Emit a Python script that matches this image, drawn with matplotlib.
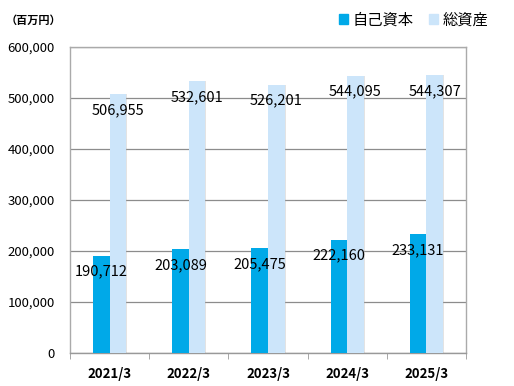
import matplotlib
matplotlib.use('Agg')
import matplotlib.pyplot as plt
import numpy as np
from matplotlib.patches import Patch

plt.rcParams['font.family'] = ['Noto Sans CJK JP', 'DejaVu Sans']

years = ['2021/3', '2022/3', '2023/3', '2024/3', '2025/3']
equity = [190712, 203089, 205475, 222160, 233131]
assets = [506955, 532601, 526201, 544095, 544307]

dark = '#00a9e8'
light = '#cce5fa'

fig = plt.figure(figsize=(5.14, 3.86), dpi=100)
ax = fig.add_axes([70/514, 1 - 353/386, 396/514, 306/386])

x = np.arange(len(years))
w = 0.21
ax.bar(x - w/2, equity, w, color=dark, zorder=3)
ax.bar(x + w/2, assets, w, color=light, zorder=3)
# soft shadow on the right of the bars
for xi, v in zip(x, equity):
    ax.bar(xi - w/2 + 0.012, v, w, color='#b0b0b0', alpha=0.35, zorder=2)
for xi, v in zip(x, assets):
    ax.bar(xi + w/2 + 0.012, v, w, color='#b0b0b0', alpha=0.35, zorder=2)

for xi, v in zip(x, equity):
    ax.annotate(f'{v:,}', (xi - w/2, v), xytext=(0, -11.5), textcoords='offset points',
                ha='center', va='center', fontsize=10.5, zorder=5)
for xi, v in zip(x, assets):
    ax.annotate(f'{v:,}', (xi + w/2, v), xytext=(0, -11.5), textcoords='offset points',
                ha='center', va='center', fontsize=10.5, zorder=5)

ax.set_xlim(-0.5, len(years) - 0.5)
ax.set_ylim(0, 600000)
ax.set_yticks(np.arange(0, 600001, 100000))
ax.set_yticklabels([f'{v:,}' for v in range(0, 600001, 100000)], fontsize=9.5)
ax.set_xticks(x)
ax.set_xticklabels(years, fontsize=9.5, fontweight='bold')
ax.tick_params(axis='x', length=0, pad=10)
ax.tick_params(axis='y', length=0, pad=11)
ax.set_xticks(np.arange(-0.5, len(years)), minor=True)
ax.tick_params(axis='x', which='minor', length=4, color='#999999')
ax.grid(axis='y', color='#8c8c8c', linewidth=0.9, zorder=1)
for s in ax.spines.values():
    s.set_color('#aaaaaa')
    s.set_linewidth(1.0)
ax.spines['bottom'].set_color('#999999')

fig.text(6/514, 1 - 20/386, '（百万円）', fontsize=8, fontweight='bold', ha='left', va='center')

ax.legend([Patch(color=dark), Patch(color=light)], ['自己資本', '総資産'],
          loc='center right', bbox_to_anchor=(502/514, 1 - 20/386), bbox_transform=fig.transFigure,
          ncol=2, frameon=False, fontsize=11, handlelength=0.6, handleheight=0.6,
          handletextpad=0.3, columnspacing=1.0)

fig.savefig('out.png', dpi=100)
